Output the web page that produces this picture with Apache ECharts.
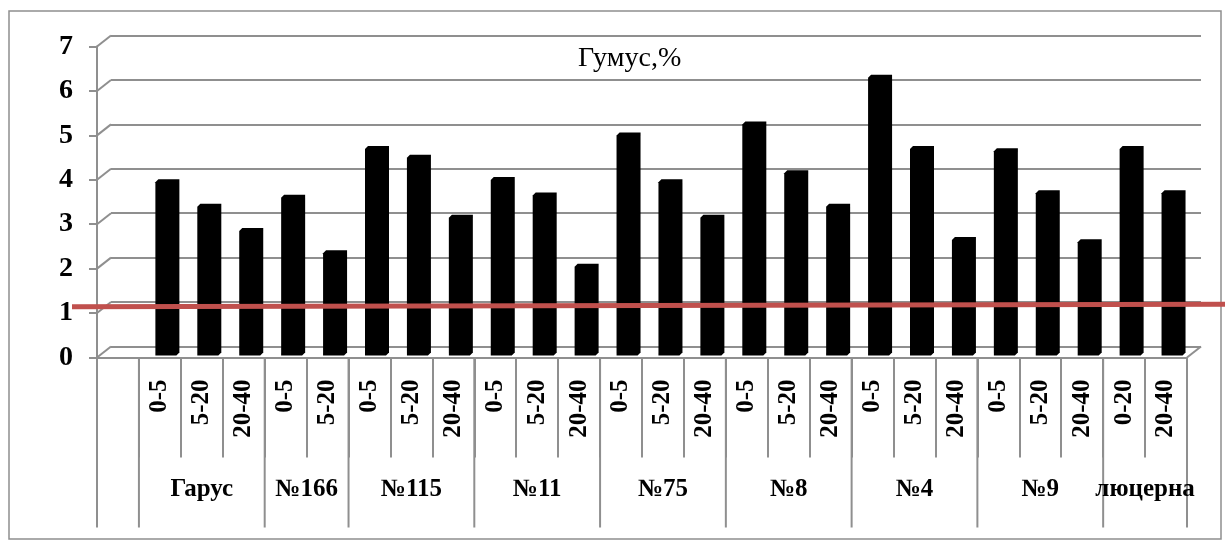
<!DOCTYPE html>
<html>
<head>
<meta charset="utf-8">
<title>Гумус,%</title>
<script src="https://cdn.jsdelivr.net/npm/echarts@6/dist/echarts.min.js"></script>
<style>
  html, body { margin: 0; padding: 0; background: #fff; }
  #chart { width: 1225px; height: 544px; }
</style>
</head>
<body>
<div id="chart"></div>
<script>
// Soil layers (cm) for each sampling point, in plotting order
const depthLabels = ['0-5', '5-20', '20-40',
  '0-5', '5-20',
  '0-5', '5-20', '20-40',
  '0-5', '5-20', '20-40',
  '0-5', '5-20', '20-40',
  '0-5', '5-20', '20-40',
  '0-5', '5-20', '20-40',
  '0-5', '5-20', '20-40',
  '0-20', '20-40'];

// Sampling points and how many layers each one has
const groupNames = ['Гарус', '№166', '№115', '№11', '№75', '№8', '№4', '№9', 'люцерна'];
const groupSizes = [3, 2, 3, 3, 3, 3, 3, 3, 2];

// Humus content, %
const humus = [3.9, 3.35, 2.8,
  3.55, 2.3,
  4.65, 4.45, 3.1,
  3.95, 3.6, 2.0,
  4.95, 3.9, 3.1,
  5.2, 4.1, 3.35,
  6.25, 4.65, 2.6,
  4.6, 3.65, 2.55,
  4.65, 3.65];

// Reference level drawn across the whole chart (start, end)
const thresholdLine = [1.14, 1.2];

// Value axis range
const yMin = 0, yMax = 7, yStep = 1;

// ---- layout constants ----
const FONT = '"Liberation Serif", "Times New Roman", serif';
const GRID_COLOR = '#8f8f8f';
const PLOT_LEFT = 97, PLOT_TOP = 46.5, PLOT_W = 1090, PLOT_H = 311;
const DX = 14, DY = 11;           // depth of the 3D floor / back wall
const BAR_SHIFT_X = 6, BAR_SHIFT_Y = 2;
const BAR_FACE = 21, BEVEL = 3;
const SHORT_TICK = 100, LONG_TICK = 170, GROUP_LABEL_DY = 132;

// first slot of the category axis is left empty
const categories = [''].concat(depthLabels);
const slotCount = categories.length;

const barData = humus.map((v, i) => [i + 1, v]);

// group boundaries and centres, in slot units
const boundaries = [0, 1];
const groupCenters = [];
let pos = 1;
groupSizes.forEach(n => {
  groupCenters.push([pos + n / 2, 0]);
  pos += n;
  boundaries.push(pos);
});
const boundaryData = boundaries.map(b => [b, 0]);

// depth edges: left end of every gridline plus the right edge of the floor
const edgeData = [];
for (let v = yMin; v <= yMax; v += yStep) edgeData.push([0, v]);
edgeData.push([slotCount, 0]);

const chart = echarts.init(document.getElementById('chart'), null, { renderer: 'canvas' });

chart.setOption({
  animation: false,
  backgroundColor: '#fff',
  title: {
    text: 'Гумус,%',
    left: 573,
    top: 40,
    textStyle: { fontFamily: FONT, fontSize: 28, fontWeight: 'normal', color: '#000' }
  },
  graphic: [{
    type: 'rect',
    shape: { x: 9, y: 11, width: 1212, height: 528 },
    style: { fill: 'none', stroke: GRID_COLOR, lineWidth: 1.5 },
    silent: true,
    z: -10
  }],
  grid: [
    // front plane: axes and table
    { left: PLOT_LEFT, top: PLOT_TOP, width: PLOT_W, height: PLOT_H },
    // back wall
    { left: PLOT_LEFT + DX, top: PLOT_TOP - DY, width: PLOT_W, height: PLOT_H },
    // plane of the columns
    { left: PLOT_LEFT + BAR_SHIFT_X, top: PLOT_TOP - BAR_SHIFT_Y, width: PLOT_W, height: PLOT_H },
    // reference line spanning the chart
    { left: 72, right: 0, top: PLOT_TOP, height: PLOT_H }
  ],
  xAxis: [
    {
      type: 'category', gridIndex: 0, data: categories, boundaryGap: true,
      axisLine: { show: true, lineStyle: { color: GRID_COLOR, width: 2 } },
      axisTick: { show: true, interval: 0, length: SHORT_TICK, lineStyle: { color: GRID_COLOR, width: 2 } },
      axisLabel: {
        interval: 0, rotate: 90, margin: 22,
        fontFamily: FONT, fontSize: 25, fontWeight: 'bold', color: '#000'
      },
      splitLine: { show: false }
    },
    { type: 'value', gridIndex: 0, min: 0, max: slotCount, show: false },
    { type: 'value', gridIndex: 1, min: 0, max: slotCount, show: false },
    { type: 'category', gridIndex: 2, data: categories, boundaryGap: true, show: false },
    { type: 'value', gridIndex: 3, min: 0, max: 1, show: false }
  ],
  yAxis: [
    {
      type: 'value', gridIndex: 0, min: yMin, max: yMax, interval: yStep,
      axisLine: { show: true, lineStyle: { color: GRID_COLOR, width: 2 } },
      axisTick: { show: true, length: 8, lineStyle: { color: GRID_COLOR, width: 2 } },
      axisLabel: { margin: 24, fontFamily: FONT, fontSize: 28, fontWeight: 'bold', color: '#000' },
      splitLine: { show: false }
    },
    {
      type: 'value', gridIndex: 1, min: yMin, max: yMax, interval: yStep,
      axisLine: { show: false }, axisTick: { show: false }, axisLabel: { show: false },
      splitLine: { show: true, lineStyle: { color: GRID_COLOR, width: 2 } }
    },
    { type: 'value', gridIndex: 2, min: yMin, max: yMax, interval: yStep, show: false },
    { type: 'value', gridIndex: 3, min: yMin, max: yMax, interval: yStep, show: false }
  ],
  series: [
    {
      name: 'depthEdges', type: 'custom', xAxisIndex: 2, yAxisIndex: 1,
      data: edgeData, silent: true, z: 1,
      renderItem: (params, api) => {
        const p = api.coord([api.value(0), api.value(1)]);
        return {
          type: 'line',
          shape: { x1: p[0], y1: p[1], x2: p[0] - DX, y2: p[1] + DY },
          style: { stroke: GRID_COLOR, lineWidth: 2 }
        };
      }
    },
    {
      name: 'Гумус,%', type: 'custom', xAxisIndex: 3, yAxisIndex: 2,
      data: barData, z: 3,
      renderItem: (params, api) => {
        const top = api.coord([api.value(0), api.value(1)]);
        const bot = api.coord([api.value(0), 0]);
        const xl = top[0] - BAR_FACE / 2, xr = top[0] + BAR_FACE / 2;
        return {
          type: 'polygon',
          shape: {
            points: [
              [xl, bot[1]], [xl, top[1]],
              [xl + BEVEL, top[1] - BEVEL], [xr + BEVEL, top[1] - BEVEL],
              [xr + BEVEL, bot[1] - BEVEL], [xr, bot[1]]
            ]
          },
          style: { fill: '#000' }
        };
      }
    },
    {
      name: 'groupLines', type: 'custom', xAxisIndex: 1, yAxisIndex: 0,
      data: boundaryData, silent: true, z: 2,
      renderItem: (params, api) => {
        const p = api.coord([api.value(0), 0]);
        return {
          type: 'line',
          shape: { x1: p[0], y1: p[1], x2: p[0], y2: p[1] + LONG_TICK },
          style: { stroke: GRID_COLOR, lineWidth: 2 }
        };
      }
    },
    {
      name: 'groupLabels', type: 'custom', xAxisIndex: 1, yAxisIndex: 0,
      data: groupCenters, silent: true, z: 4,
      renderItem: (params, api) => {
        const p = api.coord([api.value(0), 0]);
        return {
          type: 'text',
          style: {
            text: groupNames[params.dataIndex],
            x: p[0], y: p[1] + GROUP_LABEL_DY,
            align: 'center', verticalAlign: 'middle',
            fontFamily: FONT, fontSize: 25, fontWeight: 'bold',
            fill: '#000'
          }
        };
      }
    },
    {
      name: 'threshold', type: 'line', xAxisIndex: 4, yAxisIndex: 3,
      data: [[0, thresholdLine[0]], [1, thresholdLine[1]]],
      symbol: 'none', silent: true, z: 5,
      lineStyle: { color: '#c0504d', width: 5 }
    }
  ]
});
</script>
</body>
</html>
